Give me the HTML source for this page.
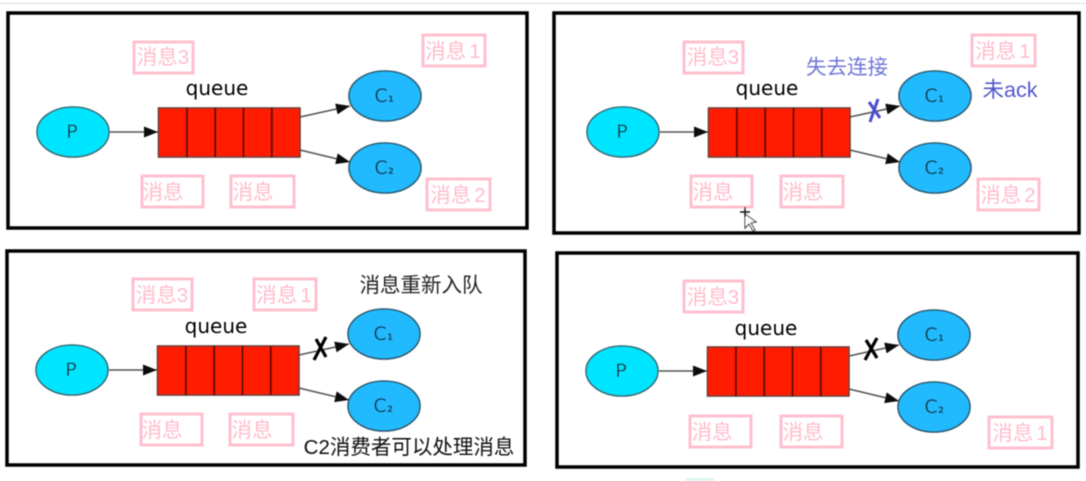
<!DOCTYPE html>
<html><head><meta charset="utf-8"><style>
html,body{margin:0;padding:0;background:#fff;width:1086px;height:481px;overflow:hidden}
svg{display:block}
text{font-family:"Liberation Sans","Noto Sans CJK SC",sans-serif}
.l{fill:#ffbccd;font-size:20.5px;text-anchor:middle}
.b{fill:none;stroke:#ffc0cf;stroke-width:3}
.q{fill:#000;font-size:20px;text-anchor:middle;font-family:"DejaVu Sans",sans-serif}
.n{fill:#123d50;font-size:19px;text-anchor:middle;font-family:"DejaVu Sans",sans-serif}
.s{fill:#123d50;font-size:8.500px;font-weight:bold;font-family:"DejaVu Sans",sans-serif}
.f{fill:none;stroke:#000;stroke-width:3.5}
</style></head><body>
<svg width="1086" height="481" viewBox="0 0 1086 481" xmlns="http://www.w3.org/2000/svg">
<defs>
<filter id="s" x="-5%" y="-5%" width="110%" height="110%"><feGaussianBlur stdDeviation="0.55"/></filter>
<marker id="a" markerWidth="16" markerHeight="12" refX="14" refY="5.5" orient="auto" markerUnits="userSpaceOnUse"><path d="M0 0L14 5.500L0 11Z" fill="#111"/></marker>
<g id="d">
<line x1="110" y1="132" x2="158" y2="132" stroke="#555" stroke-width="1.6" marker-end="url(#a)"/>
<line x1="300" y1="117" x2="350" y2="106" stroke="#555" stroke-width="1.6" marker-end="url(#a)"/>
<line x1="300" y1="150" x2="350" y2="162" stroke="#555" stroke-width="1.6" marker-end="url(#a)"/>
<ellipse cx="73" cy="132" rx="36" ry="25" fill="#00e5ff" stroke="#2f6b75" stroke-width="1.6"/>
<ellipse cx="385" cy="96" rx="36" ry="25" fill="#20baff" stroke="#2a5a70" stroke-width="1.6"/>
<ellipse cx="385" cy="168" rx="36" ry="25" fill="#20baff" stroke="#2a5a70" stroke-width="1.6"/>
<rect x="158.500" y="108" width="141.500" height="49" fill="#ff1a00" stroke="#6a3a30" stroke-width="1.6"/>
<path d="M186.900 108V157M215.200 108V157M243.500 108V157M271.800 108V157" stroke="#5a0c00" stroke-width="2"/>
</g>
</defs>
<g filter="url(#s)">
<rect x="0" y="3" width="1086" height="1" fill="#dcdce2"/>
<rect x="686" y="478" width="28" height="3" fill="#d8f5ee"/>

<!-- Panel 1 -->
<rect class="f" x="8" y="13" width="519" height="215"/>
<use href="#d"/>
<text class="q" x="217" y="95">queue</text>
<text class="n" x="72" y="138">P</text>
<text class="n" x="381" y="102">C</text><text class="s" x="388" y="102">1</text>
<text class="n" x="381" y="174">C</text><text class="s" x="388" y="174">2</text>
<rect class="b" x="134" y="42" width="59" height="31"/><text class="l" x="163" y="64">消息3</text>
<rect class="b" x="423" y="35" width="62" height="31"/><text class="l" x="453" y="58">消息<tspan dx="3">1</tspan></text>
<rect class="b" x="142" y="176" width="61" height="31"/><text class="l" x="163" y="199">消息</text>
<rect class="b" x="231" y="176" width="63" height="31"/><text class="l" x="253" y="199">消息</text>
<rect class="b" x="427" y="179" width="63" height="31"/><text class="l" x="458" y="202">消息<tspan dx="3">2</tspan></text>

<!-- Panel 2 -->
<rect class="f" x="554" y="13" width="525" height="220"/>
<use href="#d" x="550"/>
<text class="q" x="767" y="95">queue</text>
<text class="n" x="622" y="138">P</text>
<text class="n" x="931" y="102">C</text><text class="s" x="938" y="102">1</text>
<text class="n" x="931" y="174">C</text><text class="s" x="938" y="174">2</text>
<rect class="b" x="684" y="42" width="59" height="31"/><text class="l" x="713" y="64">消息3</text>
<rect class="b" x="972" y="35" width="63" height="31"/><text class="l" x="1003" y="58">消息<tspan dx="3">1</tspan></text>
<rect class="b" x="691" y="176" width="61" height="31"/><text class="l" x="713" y="199">消息</text>
<rect class="b" x="781" y="176" width="62" height="31"/><text class="l" x="803" y="199">消息</text>
<rect class="b" x="978" y="179" width="61" height="31"/><text class="l" x="1008" y="202">消息<tspan dx="3">2</tspan></text>
<text x="847" y="74" font-size="20.500" fill="#7076d6" text-anchor="middle">失去连接</text>
<text x="1010" y="97" font-size="21.500" fill="#5258cc" text-anchor="middle">未ack</text>
<path d="M878 99L870 122M869 102L880 118" stroke="#4a50cc" stroke-width="3" fill="none"/>
<path d="M745 214L745 228L749 224L753 231L755 230L751 223L756 222Z" fill="#fff" stroke="#222" stroke-width="1"/>
<path d="M740 212H750M745 207V217" stroke="#111" stroke-width="1.400"/>

<!-- Panel 3 -->
<rect class="f" x="7" y="251" width="518" height="214"/>
<use href="#d" x="-1" y="238"/>
<text class="q" x="216" y="333">queue</text>
<text class="n" x="71" y="376">P</text>
<text class="n" x="380" y="340">C</text><text class="s" x="387" y="340">1</text>
<text class="n" x="380" y="412">C</text><text class="s" x="387" y="412">2</text>
<rect class="b" x="133" y="279" width="59" height="31"/><text class="l" x="162" y="302">消息3</text>
<rect class="b" x="254" y="279" width="62" height="31"/><text class="l" x="284" y="302">消息<tspan dx="3">1</tspan></text>
<rect class="b" x="141" y="414" width="61" height="31"/><text class="l" x="162" y="437">消息</text>
<rect class="b" x="230" y="414" width="63" height="31"/><text class="l" x="252" y="437">消息</text>
<text x="421" y="292" font-size="20.500" fill="#222" text-anchor="middle">消息重新入队</text>
<text x="409" y="454" font-size="20.500" fill="#111" text-anchor="middle">C2消费者可以处理消息</text>
<path d="M326 337L314 360M316 339L326 357" stroke="#000" stroke-width="3.2" fill="none"/>

<!-- Panel 4 -->
<rect class="f" x="557" y="253" width="521" height="214"/>
<use href="#d" x="549" y="239"/>
<text class="q" x="766" y="335">queue</text>
<text class="n" x="621" y="377">P</text>
<text class="n" x="931" y="341">C</text><text class="s" x="938" y="341">1</text>
<text class="n" x="931" y="413">C</text><text class="s" x="938" y="413">2</text>
<rect class="b" x="684" y="281" width="59" height="31"/><text class="l" x="713" y="304">消息3</text>
<rect class="b" x="690" y="416" width="61" height="31"/><text class="l" x="712" y="439">消息</text>
<rect class="b" x="781" y="416" width="61" height="31"/><text class="l" x="803" y="439">消息</text>
<rect class="b" x="989" y="417" width="63" height="31"/><text class="l" x="1020" y="440">消息<tspan dx="3">1</tspan></text>
<path d="M877 338L865 360M866 340L877 358" stroke="#000" stroke-width="3.2" fill="none"/>
</g>
</svg>
</body></html>
